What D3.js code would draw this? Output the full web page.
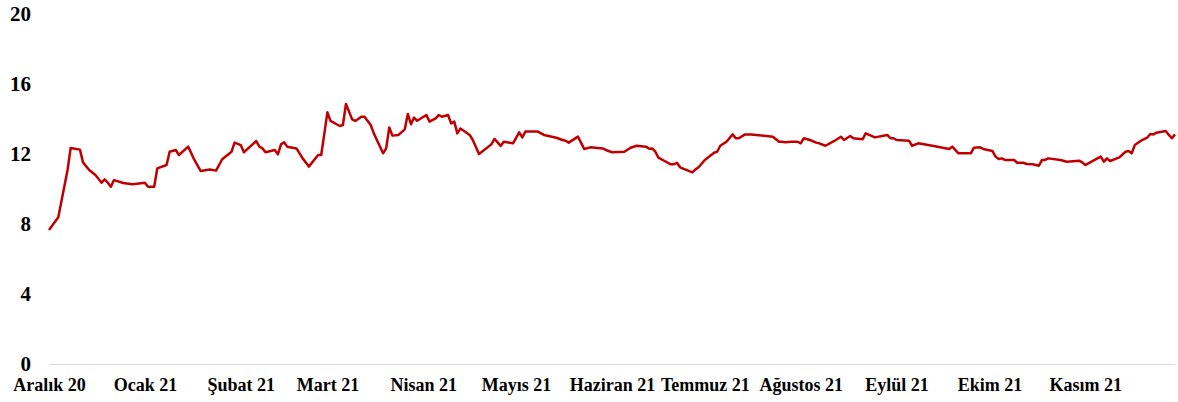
<!DOCTYPE html>
<html>
<head>
<meta charset="utf-8">
<script src="https://cdn.jsdelivr.net/npm/d3@7"></script>
<style>
  body { margin: 0; background: #fff; }
  svg text { font-family: "Liberation Serif", "Times New Roman", serif; font-weight: bold; fill: #000; }
</style>
</head>
<body>
<script>
// daily series
let dates = [
  "2020-12-01","2020-12-04","2020-12-07","2020-12-08","2020-12-11","2020-12-12","2020-12-14","2020-12-16",
  "2020-12-18","2020-12-19","2020-12-20","2020-12-21","2020-12-22","2020-12-25","2020-12-28",
  "2021-01-01","2021-01-02","2021-01-04","2021-01-05","2021-01-08","2021-01-09","2021-01-11","2021-01-12",
  "2021-01-15","2021-01-17","2021-01-19","2021-01-22","2021-01-24","2021-01-26","2021-01-29","2021-01-30",
  "2021-02-01","2021-02-02","2021-02-04","2021-02-06","2021-02-07","2021-02-08","2021-02-09","2021-02-12",
  "2021-02-13","2021-02-14","2021-02-15","2021-02-16","2021-02-19","2021-02-21","2021-02-23","2021-02-26","2021-02-27",
  "2021-03-01","2021-03-02","2021-03-05","2021-03-06","2021-03-07","2021-03-09","2021-03-10","2021-03-12",
  "2021-03-13","2021-03-15","2021-03-16","2021-03-19","2021-03-20","2021-03-21","2021-03-22","2021-03-24",
  "2021-03-26","2021-03-27","2021-03-28","2021-03-29","2021-03-30",
  "2021-04-02","2021-04-03","2021-04-05","2021-04-06","2021-04-07","2021-04-09","2021-04-10","2021-04-11",
  "2021-04-12","2021-04-13","2021-04-16","2021-04-17","2021-04-19","2021-04-23","2021-04-24","2021-04-26",
  "2021-04-27","2021-04-30",
  "2021-05-02","2021-05-03","2021-05-04","2021-05-08","2021-05-10","2021-05-14","2021-05-16","2021-05-17",
  "2021-05-18","2021-05-21","2021-05-23","2021-05-25","2021-05-29","2021-05-30",
  "2021-06-01","2021-06-05","2021-06-07","2021-06-09","2021-06-12","2021-06-13","2021-06-14","2021-06-15",
  "2021-06-16","2021-06-18","2021-06-20","2021-06-21","2021-06-22","2021-06-23","2021-06-25","2021-06-27",
  "2021-06-28","2021-06-29",
  "2021-07-01","2021-07-04","2021-07-05","2021-07-06","2021-07-08","2021-07-10","2021-07-11","2021-07-12",
  "2021-07-14","2021-07-16","2021-07-23","2021-07-25","2021-07-26","2021-07-27","2021-07-29","2021-07-31",
  "2021-08-01","2021-08-02","2021-08-04","2021-08-06","2021-08-07","2021-08-09","2021-08-12","2021-08-14",
  "2021-08-15","2021-08-17","2021-08-18","2021-08-21","2021-08-22","2021-08-25","2021-08-29","2021-08-30","2021-08-31",
  "2021-09-01","2021-09-05","2021-09-06","2021-09-08","2021-09-13","2021-09-18","2021-09-19","2021-09-21",
  "2021-09-25","2021-09-26","2021-09-28","2021-09-29",
  "2021-10-02","2021-10-03","2021-10-04","2021-10-05","2021-10-06","2021-10-09","2021-10-10","2021-10-12",
  "2021-10-13","2021-10-15","2021-10-17","2021-10-18","2021-10-19","2021-10-20","2021-10-24","2021-10-26",
  "2021-10-30","2021-10-31",
  "2021-11-01","2021-11-03","2021-11-06","2021-11-07","2021-11-08","2021-11-09","2021-11-12","2021-11-14",
  "2021-11-15","2021-11-16","2021-11-17","2021-11-19","2021-11-21","2021-11-22","2021-11-23","2021-11-24",
  "2021-11-27","2021-11-28","2021-11-29","2021-11-30"
]
let values = [
  7.66,8.38,11.09,12.34,12.25,11.52,11.09,10.80,
  10.36,10.55,10.36,10.13,10.51,10.34,10.27,
  10.36,10.13,10.13,11.18,11.37,12.13,12.23,11.94,
  12.42,11.66,11.03,11.12,11.05,11.70,12.13,12.65,
  12.51,12.10,12.42,12.74,12.42,12.32,12.10,12.23,
  11.98,12.55,12.67,12.42,12.32,11.75,11.28,11.94,11.94,
  14.38,13.89,13.60,13.66,14.86,13.98,13.89,14.13,
  14.13,13.66,13.18,12.04,12.32,13.52,13.05,13.09,
  13.41,14.29,13.70,14.08,13.90,
  14.23,13.85,14.04,14.23,14.13,14.23,13.75,13.85,
  13.18,13.46,13.09,12.80,12.00,12.55,12.86,12.46,
  12.70,12.61,
  13.24,12.95,13.28,13.28,13.09,12.93,12.80,12.76,
  12.65,12.99,12.29,12.38,12.32,12.23,
  12.10,12.13,12.36,12.47,12.42,12.30,12.32,12.13,
  11.79,11.60,11.41,11.41,11.50,11.24,11.09,10.95,
  11.12,11.24,
  11.66,12.07,12.13,12.47,12.70,13.12,12.90,12.90,
  13.12,13.12,12.99,12.70,12.70,12.67,12.70,12.70,
  12.61,12.90,12.80,12.65,12.61,12.47,12.76,12.99,
  12.80,13.03,12.90,12.84,13.18,12.95,13.09,12.90,12.90,
  12.80,12.76,12.47,12.61,12.46,12.29,12.42,12.04,
  12.04,12.36,12.38,12.29,
  12.17,11.85,11.71,11.75,11.66,11.66,11.50,11.50,
  11.43,11.41,11.33,11.66,11.66,11.75,11.66,11.56,
  11.62,11.52,
  11.37,11.56,11.85,11.56,11.75,11.60,11.81,12.13,
  12.17,12.04,12.51,12.76,12.93,13.14,13.12,13.22,
  13.31,13.09,12.90,13.12
]
let monthTicks = ["2020-12-01","2021-01-01","2021-02-01","2021-03-01","2021-04-01","2021-05-01",
  "2021-06-01","2021-07-01","2021-08-01","2021-09-01","2021-10-01","2021-11-01"]
let monthLabels = ["Aralık 20","Ocak 21","Şubat 21","Mart 21","Nisan 21","Mayıs 21",
  "Haziran 21","Temmuz 21","Ağustos 21","Eylül 21","Ekim 21","Kasım 21"]
let yTicks = [0, 4, 8, 12, 16, 20]

let parse = d3.timeParse("%Y-%m-%d")
let data = dates.map((d, i) => ({date: parse(d), value: values[i]}))

let w = 1178
let h = 402
let margin = {top: 14, right: 3, bottom: 38, left: 49}

let svg = d3.select("body").append("svg")
    .attr("width", w)
    .attr("height", h)

let xScale = d3.scaleTime()
    .domain([parse("2020-12-01"), parse("2021-11-30")])
    .range([margin.left, w - margin.right])
let yScale = d3.scaleLinear()
    .domain([0, 20])
    .range([h - margin.bottom, margin.top])

let xAxis = d3.axisBottom(xScale)
    .tickValues(monthTicks.map(parse))
    .tickFormat((d, i) => monthLabels[i])
    .tickSize(0)
    .tickPadding(14)
let yAxis = d3.axisLeft(yScale)
    .tickValues(yTicks)
    .tickSize(0)
    .tickPadding(18)

let gx = svg.append("g")
    .attr("transform", "translate(0," + (h - margin.bottom) + ")")
    .call(xAxis)
gx.select(".domain").attr("stroke", "#d9d9d9").attr("stroke-width", 1)
gx.selectAll("text").style("font-size", "18px")

let gy = svg.append("g")
    .attr("transform", "translate(" + margin.left + ",0)")
    .call(yAxis)
gy.select(".domain").remove()
gy.selectAll("text").style("font-size", "21px")

let line = d3.line()
    .x(d => xScale(d.date))
    .y(d => yScale(d.value))

svg.append("path")
    .datum(data)
    .attr("fill", "none")
    .attr("stroke", "#c00000")
    .attr("stroke-width", 2.5)
    .attr("stroke-linejoin", "round")
    .attr("d", line)
</script>
</body>
</html>
